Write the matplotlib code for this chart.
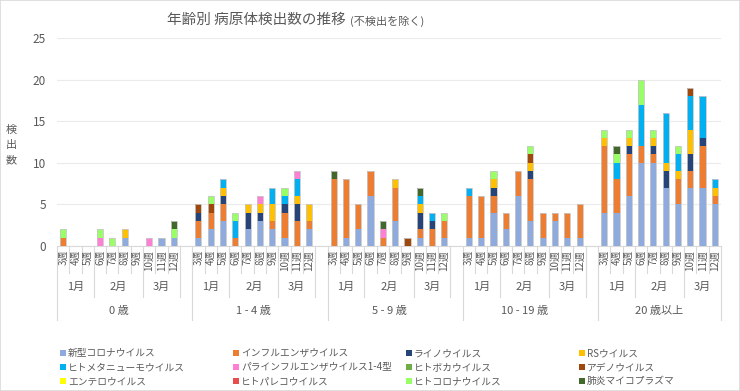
import matplotlib
matplotlib.use("Agg")
import matplotlib.pyplot as plt
from matplotlib.patches import Rectangle
import numpy as np

plt.rcParams["font.family"] = ["Noto Sans CJK JP", "DejaVu Sans"]

# categories
age_groups = ["0 歳", "1 - 4 歳", "5 - 9 歳", "10 - 19 歳", "20 歳以上"]
weeks = ["3週", "4週", "5週", "6週", "7週", "8週", "9週", "10週", "11週", "12週"]
months = [("1月", 0, 3), ("2月", 3, 7), ("3月", 7, 10)]  # label, first week idx, end idx

pathogens = [
    "新型コロナウイルス", "インフルエンザウイルス", "ライノウイルス", "RSウイルス",
    "ヒトメタニューモウイルス", "パラインフルエンザウイルス1-4型", "ヒトボカウイルス", "アデノウイルス",
    "エンテロウイルス", "ヒトパレコウイルス", "ヒトコロナウイルス", "肺炎マイコプラズマ",
]
colors = [
    "#8FAADC", "#ED7D31", "#264478", "#FFC000",
    "#00B0F0", "#FF7FD4", "#70AD47", "#9E480E",
    "#FFFF00", "#E84C4C", "#99FF66", "#43682B",
]

# counts per pathogen: 0歳 | 1-4歳 | 5-9歳 | 10-19歳 | 20歳以上 (weeks 3..12 each)
covid = [0, 0, 0, 0, 0, 1, 0, 0, 1, 1,
         1, 2, 3, 0, 2, 3, 2, 1, 0, 2,
         0, 1, 2, 6, 0, 3, 0, 1, 0, 1,
         1, 1, 4, 2, 6, 3, 1, 3, 1, 1,
         4, 4, 6, 10, 10, 7, 5, 7, 7, 5]
flu = [1, 0, 0, 0, 0, 0, 0, 0, 0, 0,
       2, 2, 2, 1, 0, 0, 1, 3, 3, 1,
       8, 7, 3, 3, 1, 4, 0, 1, 2, 2,
       5, 5, 2, 2, 3, 5, 3, 1, 3, 4,
       8, 4, 5, 2, 1, 0, 3, 2, 5, 1]
rhino = [0, 0, 0, 0, 0, 0, 0, 0, 0, 0,
         1, 0, 1, 0, 2, 1, 0, 1, 2, 0,
         0, 0, 0, 0, 0, 0, 0, 2, 1, 0,
         0, 0, 1, 0, 0, 1, 0, 0, 0, 0,
         0, 0, 1, 0, 1, 2, 0, 2, 1, 0]
rsv = [0, 0, 0, 0, 0, 1, 0, 0, 0, 0,
       0, 0, 1, 0, 1, 1, 2, 0, 1, 2,
       0, 0, 0, 0, 0, 1, 0, 1, 0, 0,
       0, 0, 1, 0, 0, 1, 0, 0, 0, 0,
       1, 0, 1, 0, 1, 1, 1, 3, 0, 1]
hmpv = [0, 0, 0, 0, 0, 0, 0, 0, 0, 0,
        0, 0, 1, 2, 0, 0, 2, 1, 2, 0,
        0, 0, 0, 0, 0, 0, 0, 1, 1, 0,
        1, 0, 0, 0, 0, 0, 0, 0, 0, 0,
        0, 2, 0, 5, 0, 6, 2, 4, 5, 1]
para = [0, 0, 0, 1, 0, 0, 0, 1, 0, 0,
        0, 0, 0, 0, 0, 1, 0, 0, 1, 0,
        0, 0, 0, 0, 1, 0, 0, 0, 0, 0,
        0, 0, 0, 0, 0, 0, 0, 0, 0, 0,
        0, 0, 0, 0, 0, 0, 0, 0, 0, 0]
boca = [0] * 50
adeno = [0, 0, 0, 0, 0, 0, 0, 0, 0, 0,
         1, 1, 0, 0, 0, 0, 0, 0, 0, 0,
         0, 0, 0, 0, 0, 0, 1, 0, 0, 0,
         0, 0, 0, 0, 0, 1, 0, 0, 0, 0,
         0, 0, 0, 0, 0, 0, 0, 1, 0, 0]
entero = [0] * 50
pareco = [0] * 50
hcov = [1, 0, 0, 1, 1, 0, 0, 0, 0, 1,
        0, 1, 0, 1, 0, 0, 0, 1, 0, 0,
        0, 0, 0, 0, 0, 0, 0, 0, 0, 1,
        0, 0, 1, 0, 0, 1, 0, 0, 0, 0,
        1, 1, 1, 3, 1, 0, 1, 0, 0, 0]
myco = [0, 0, 0, 0, 0, 0, 0, 0, 0, 1,
        0, 0, 0, 0, 0, 0, 0, 0, 0, 0,
        1, 0, 0, 0, 1, 0, 0, 1, 0, 0,
        0, 0, 0, 0, 0, 0, 0, 0, 0, 0,
        0, 1, 0, 0, 0, 0, 0, 0, 0, 0]

series = [covid, flu, rhino, rsv, hmpv, para, boca, adeno, entero, pareco, hcov, myco]

W, H = 740, 391
fig = plt.figure(figsize=(W / 100, H / 100), dpi=100)
fig.patch.set_facecolor("white")
fig.add_artist(Rectangle((0, 0), 1, 1, transform=fig.transFigure, fill=False,
                         edgecolor="#D9D9D9", linewidth=1.2))

ax_l, ax_r, ax_t, ax_b = 57, 721, 38, 246
ax = fig.add_axes([ax_l / W, 1 - ax_b / H, (ax_r - ax_l) / W, (ax_b - ax_t) / H])

n_w = len(weeks)
slot = n_w + 1  # one blank slot after each age group
x = np.array([g * slot + w for g in range(len(age_groups)) for w in range(n_w)])

bottom = np.zeros(len(x))
for name, vals, col in zip(pathogens, series, colors):
    v = np.array(vals, dtype=float)
    ax.bar(x, v, bottom=bottom, width=0.5, color=col, linewidth=0, label=name, zorder=3)
    bottom += v
totals = bottom
ax.bar(x[totals > 0], totals[totals > 0], width=0.5, fill=False, edgecolor="#C8C8C8",
       linewidth=0.6, zorder=4)

ax.set_xlim(-0.5, (len(age_groups) - 1) * slot + n_w - 0.5)
ax.set_ylim(0, 25)
ax.set_yticks(range(0, 26, 5))
ax.tick_params(axis="y", length=0, labelsize=8.5, labelcolor="#595959", pad=8)
ax.set_xticks([])
ax.grid(axis="y", color="#EBEBEB", linewidth=0.8, zorder=0)
for s in ["top", "right", "left"]:
    ax.spines[s].set_visible(False)
ax.spines["bottom"].set_color("#D9D9D9")
ax.set_facecolor("none")


def ay(py):
    # pixel row -> axes fraction
    return (ax_b - py) / (ax_b - ax_t)


tr = ax.get_xaxis_transform()
line_kw = dict(transform=tr, color="#D9D9D9", linewidth=0.8, clip_on=False)
y_week, y_month, y_age = ay(273), ay(297), ay(320)

for g, age in enumerate(age_groups):
    x0 = g * slot
    # week labels and ticks
    for w, wk in enumerate(weeks):
        ax.text(x0 + w, ay(250), wk, transform=tr, rotation=90, ha="center", va="top",
                fontsize=7, color="#595959")
    for w in range(1, n_w):
        edge = x0 + w - 0.5
        if w in (3, 7):
            continue
        ax.plot([edge, edge], [0, y_week], **line_kw)
    # month labels and boundaries
    for m, a, b in months:
        ax.text(x0 + (a + b - 1) / 2, ay(287), m, transform=tr, ha="center", va="center",
                fontsize=8, color="#595959")
    for edge in (x0 + 2.5, x0 + 6.5):
        ax.plot([edge, edge], [0, y_month], **line_kw)
    if g < len(age_groups) - 1:
        ax.plot([x0 + 9.5, x0 + 9.5], [0, y_month], **line_kw)
        ax.plot([x0 + 10.5, x0 + 10.5], [0, y_age], **line_kw)
    # age label
    ax.text(x0 + 4.5, ay(311), age, transform=tr, ha="center", va="center",
            fontsize=8, color="#595959")
ax.plot([-0.5, -0.5], [0, y_age], **line_kw)
xr = (len(age_groups) - 1) * slot + n_w - 0.5
ax.plot([xr, xr], [0, y_age], **line_kw)

# y label, stacked characters
fig.text(11 / W, 1 - 145 / H, "検\n出\n数", ha="center", va="center", fontsize=8,
         color="#595959", linespacing=1.7)

# title
fig.text(346 / W, 1 - 20 / H, "年齢別 病原体検出数の推移", ha="right", va="center",
         fontsize=10.5, color="#595959")
fig.text(350 / W, 1 - 21 / H, "(不検出を除く)", ha="left", va="center",
         fontsize=8, color="#595959")

# legend, filled row-wise
for i, (name, col) in enumerate(zip(pathogens, colors)):
    r, c = divmod(i, 4)
    lx = 60 + c * 173
    ly = 353 + r * 14
    fig.add_artist(Rectangle((lx / W, 1 - (ly + 3) / H), 6 / W, 6 / H,
                             transform=fig.transFigure, facecolor=col, edgecolor="none"))
    fig.text((lx + 8) / W, 1 - ly / H, name, ha="left", va="center", fontsize=7,
             color="#595959")

fig.savefig("out.png", dpi=100)
